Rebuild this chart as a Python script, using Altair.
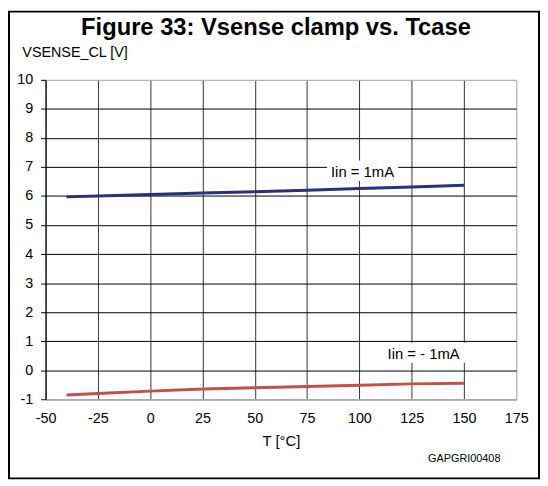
import altair as alt
import pandas as pd

# ---- data ----
temps = [-40, -25, 0, 25, 50, 75, 100, 125, 150]
v_pos = [5.97, 6.00, 6.05, 6.10, 6.15, 6.20, 6.26, 6.31, 6.37]      # Iin = 1mA
v_neg = [-0.85, -0.80, -0.72, -0.65, -0.60, -0.56, -0.52, -0.47, -0.45]  # Iin = -1mA
series_names = ["Iin = 1mA", "Iin = - 1mA"]
x_ticks = [-50, -25, 0, 25, 50, 75, 100, 125, 150, 175]
y_ticks = [-1, 0, 1, 2, 3, 4, 5, 6, 7, 8, 9, 10]

df = pd.DataFrame({
    "T": temps * 2,
    "V": v_pos + v_neg,
    "series": [series_names[0]] * len(temps) + [series_names[1]] * len(temps),
})

# annotation placement (data units)
lab_df = pd.DataFrame({
    "text": series_names,
    "x": [101.5, 130.7],
    "y": [6.83, 0.54],
    "x1": [84.5, 110.6], "x2": [118.5, 151.3],
    "y1": [6.52, 0.26], "y2": [7.22, 0.95],
})

FONT = "Liberation Sans"
W, H = 476, 323

xscale = alt.Scale(domain=[-50, 175], nice=False, zero=False)
yscale = alt.Scale(domain=[-1, 10], nice=False, zero=False)

xaxis = alt.Axis(
    values=x_ticks, tickCount=30, grid=True, ticks=False, tickSize=0, labelPadding=13,
    labelFontSize=14.5, labelFont=FONT, labelColor="black", labelOverlap=False,
    labelFlush=False, labelExpr="toString(datum.value)",
    gridColor={"condition": {"test": "datum.value == 175", "value": "#aaaaaa"}, "value": "#333333"},
    gridWidth=1, domainColor="#aaaaaa", domainWidth=1.5,
    title="T [°C]", titleFont=FONT, titleFontSize=15, titleFontWeight="normal",
    titleColor="black", titleY=47, titleBaseline="alphabetic",
)
yaxis = alt.Axis(
    values=y_ticks, tickCount=30, grid=True, ticks=True, tickSize=5, tickColor="black", labelPadding=8,
    labelFontSize=14.5, labelFont=FONT, labelColor="black", labelOverlap=False,
    labelFlush=False, labelExpr="toString(datum.value)",
    gridColor={"condition": {"test": "datum.value == 10", "value": "#aaaaaa"}, "value": "black"},
    gridWidth=1, domainColor="black",
    title="VSENSE_CL [V]", titleFont=FONT, titleFontSize=14.5, titleFontWeight="normal",
    titleColor="black", titleAngle=0, titleX=-24, titleY=-24,
    titleAlign="left", titleBaseline="alphabetic",
)

base = alt.Chart(df)

lines = base.mark_line(strokeWidth=3, clip=True).encode(
    x=alt.X("T:Q", scale=xscale, axis=xaxis),
    y=alt.Y("V:Q", scale=yscale, axis=yaxis),
    color=alt.Color("series:N", scale=alt.Scale(domain=series_names, range=["#2b2f7e", "#c4504c"]), legend=None),
)

boxes = alt.Chart(lab_df).mark_rect(fill="white").encode(
    x=alt.X("x1:Q", scale=xscale, axis=xaxis), x2="x2:Q",
    y=alt.Y("y1:Q", scale=yscale, axis=yaxis), y2="y2:Q",
)

labels = alt.Chart(lab_df).mark_text(font=FONT, fontSize=15, color="black", baseline="middle", align="center").encode(
    x=alt.X("x:Q", scale=xscale), y=alt.Y("y:Q", scale=yscale), text="text:N",
)

title = alt.Chart(pd.DataFrame({"t": ["Figure 33: Vsense clamp vs. Tcase"]})).mark_text(
    font=FONT, fontSize=24, fontWeight="bold", color="black", align="center", baseline="alphabetic"
).encode(x=alt.value(233), y=alt.value(-45), text="t:N")

code = alt.Chart(pd.DataFrame({"t": ["GAPGRI00408"]})).mark_text(
    font=FONT, fontSize=11, color="black", align="right", baseline="alphabetic"
).encode(x=alt.value(460), y=alt.value(386), text="t:N")

frame = alt.Chart(pd.DataFrame({"a": [0]})).mark_rect(
    fill=None, stroke="black", strokeWidth=2, clip=False
).encode(x=alt.value(-37), x2=alt.value(W + 23), y=alt.value(-69), y2=alt.value(H + 80))

chart = alt.layer(boxes, lines, labels, title, code, frame).properties(
    width=W, height=H,
    autosize=alt.AutoSizeParams(type="none"),
    padding={"left": 38, "top": 70, "right": 24, "bottom": 81},
).configure_view(stroke="#aaaaaa", strokeWidth=1.5).configure(background="white")

chart.save("out.html", embed_options={"renderer": "svg", "actions": False})
